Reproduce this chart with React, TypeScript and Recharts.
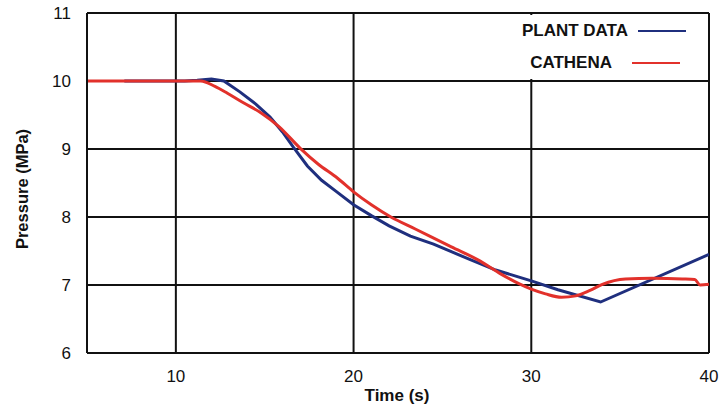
import { LineChart, Line, XAxis, YAxis, CartesianGrid, Legend } from 'recharts';

const plantTime = [7.1, 9, 10.5, 11.2, 12, 12.7, 13.6, 14.5, 15.3, 16, 16.6, 17.4, 18.2, 19, 20, 21, 22, 23.2, 24.5, 25.5, 26.5, 28, 30, 31.5, 33.9, 40];
const plantPressure = [10.0, 10.0, 10.0, 10.01, 10.03, 10.0, 9.84, 9.66, 9.47, 9.25, 9.03, 8.75, 8.54, 8.38, 8.18, 8.02, 7.87, 7.72, 7.6, 7.49, 7.38, 7.22, 7.06, 6.93, 6.75, 7.45];

const cathenaTime = [5, 10, 11.4, 12.2, 12.9, 13.8, 14.8, 15.8, 17, 18, 19.1, 20, 21, 22.1, 23.5, 25.5, 27, 28.3, 29.3, 30, 30.8, 31.7, 32.5, 33.3, 34, 35.3, 36.8, 38.5, 39.2, 39.5, 40];
const cathenaPressure = [10.0, 10.0, 10.0, 9.92, 9.82, 9.68, 9.53, 9.33, 9.01, 8.78, 8.57, 8.37, 8.18, 8.0, 7.82, 7.56, 7.37, 7.16, 7.02, 6.94, 6.87, 6.82, 6.84, 6.92, 7.01, 7.09, 7.1, 7.09, 7.08, 7.0, 7.01];

const xTicks = [10, 20, 30, 40];
const yTicks = [6, 7, 8, 9, 10, 11];

const plantData = plantTime.map((t, i) => ({ time: t, pressure: plantPressure[i] }));
const cathenaData = cathenaTime.map((t, i) => ({ time: t, pressure: cathenaPressure[i] }));

const FONT = '"Liberation Sans", Arial, Helvetica, sans-serif';
const BLUE = '#1f2f7e';
const RED = '#e2312b';

function ChartLegend() {
  const row = (label: string, color: string, pad: number, gap: number) => (
    <div style={{ display: 'flex', alignItems: 'center', justifyContent: 'flex-end', height: 32, paddingRight: pad }}>
      <span style={{ fontWeight: 'bold', fontSize: 17, color: '#111', marginRight: gap }}>{label}</span>
      <span style={{ display: 'inline-block', width: 48, height: 2, background: color }} />
    </div>
  );
  return (
    <div style={{ background: '#fff', width: 200, height: 64, fontFamily: FONT }}>
      {row('PLANT DATA', BLUE, 19, 10)}
      {row('CATHENA', RED, 25, 20)}
    </div>
  );
}

function YTitle() {
  return (
    <text x={22} y={189} transform="rotate(-90 22 189)" textAnchor="middle" dominantBaseline="central"
      style={{ fontFamily: FONT, fontSize: 16.5, fontWeight: 'bold', fill: '#111' }}>
      Pressure (MPa)
    </text>
  );
}

function XTitle() {
  return (
    <text x={397} y={395} textAnchor="middle" dominantBaseline="central"
      style={{ fontFamily: FONT, fontSize: 17, fontWeight: 'bold', fill: '#111' }}>
      Time (s)
    </text>
  );
}

export default function App() {
  return (
    <div style={{ position: 'absolute', left: 0, top: 0, width: 719, height: 404, background: '#fff' }}>
      <LineChart width={719} height={404} margin={{ top: 13, right: 10, bottom: 0, left: 0 }}>
        <CartesianGrid stroke="#111" strokeWidth={2} verticalValues={[10, 20, 30, 40]} horizontalValues={yTicks} />
        <XAxis type="number" dataKey="time" domain={[5, 40]} ticks={xTicks} allowDataOverflow
          height={51} tickLine={false} axisLine={{ stroke: '#111', strokeWidth: 2 }} tickMargin={11}
          tick={{ fill: '#111', fontSize: 17, fontFamily: FONT }} label={<XTitle />} />
        <YAxis type="number" domain={[6, 11]} ticks={yTicks} allowDataOverflow width={87}
          tickLine={false} axisLine={{ stroke: '#111', strokeWidth: 2 }} tickMargin={10}
          tick={{ fill: '#111', fontSize: 17, fontFamily: FONT }} label={<YTitle />} />
        <Legend layout="horizontal" verticalAlign="middle" align="center" content={<ChartLegend />}
          wrapperStyle={{ position: 'absolute', left: 505, top: 15, width: 200, height: 64 }} />
        <Line data={plantData} dataKey="pressure" name="PLANT DATA" type="linear" stroke={BLUE}
          strokeWidth={3} dot={false} isAnimationActive={false} />
        <Line data={cathenaData} dataKey="pressure" name="CATHENA" type="monotone" stroke={RED}
          strokeWidth={3} dot={false} isAnimationActive={false} />
      </LineChart>
    </div>
  );
}
